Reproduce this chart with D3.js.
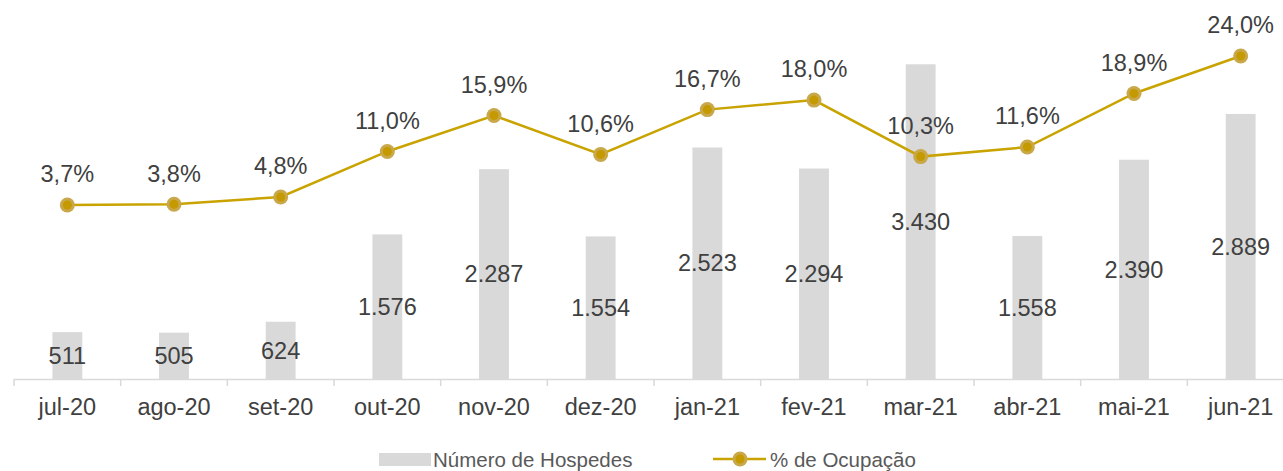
<!DOCTYPE html>
<html>
<head>
<meta charset="utf-8">
<script src="https://cdn.jsdelivr.net/npm/d3@7"></script>
<style>
  body { margin: 0; background: #fff; }
  svg { display: block; font-family: "Liberation Sans", Arial, sans-serif; }
</style>
</head>
<body>
<div id="chart"></div>
<script>
// data
const months = ["jul-20", "ago-20", "set-20", "out-20", "nov-20", "dez-20",
                "jan-21", "fev-21", "mar-21", "abr-21", "mai-21", "jun-21"];
const hospedes = [511, 505, 624, 1576, 2287, 1554, 2523, 2294, 3430, 1558, 2390, 2889];
const ocupacao = [3.7, 3.8, 4.8, 11.0, 15.9, 10.6, 16.7, 18.0, 10.3, 11.6, 18.9, 24.0];
const seriesNames = ["Número de Hospedes", "% de Ocupação"];

const W = 1283, H = 471;
const axisY = 379, topY = 12;

const svg = d3.select("#chart").append("svg")
  .attr("width", W).attr("height", H);

// scales
const x = d3.scaleBand().domain(months).range([14, 1294]);
const yBar = d3.scaleLinear().domain([0, 4000]).range([axisY, topY]);
const yPct = d3.scaleLinear().domain([-20, 30]).range([axisY, topY]);

const fmtInt = v => d3.format(",")(v).replace(/,/g, ".");
const fmtPct = v => v.toFixed(1).replace(".", ",") + "%";

const barW = x.bandwidth() * 0.28;
const lineColor = "#c9a300";
const textColor = "#404040";

// bars
svg.append("g").selectAll("rect")
  .data(months)
  .join("rect")
  .attr("x", (d) => x(d) + x.bandwidth() / 2 - barW / 2)
  .attr("y", (d, i) => yBar(hospedes[i]))
  .attr("width", barW)
  .attr("height", (d, i) => axisY - yBar(hospedes[i]))
  .attr("fill", "#d9d9d9");

// bar labels (centre of bar)
svg.append("g").selectAll("text")
  .data(months)
  .join("text")
  .attr("x", d => x(d) + x.bandwidth() / 2)
  .attr("y", (d, i) => (yBar(hospedes[i]) + axisY) / 2)
  .attr("dy", "0.35em")
  .attr("text-anchor", "middle")
  .attr("fill", textColor)
  .style("font-size", "23.5px")
  .text((d, i) => fmtInt(hospedes[i]));

// x axis
const axis = svg.append("g");
axis.append("line")
  .attr("x1", x.range()[0]).attr("x2", x.range()[1])
  .attr("y1", axisY + 0.5).attr("y2", axisY + 0.5)
  .attr("stroke", "#d9d9d9").attr("stroke-width", 1.5);
axis.selectAll("line.tick")
  .data(months.map(d => x(d)).concat([x.range()[1]]))
  .join("line")
  .attr("class", "tick")
  .attr("x1", d => d).attr("x2", d => d)
  .attr("y1", axisY).attr("y2", axisY + 7)
  .attr("stroke", "#d9d9d9").attr("stroke-width", 1.5);
axis.selectAll("text")
  .data(months)
  .join("text")
  .attr("x", d => x(d) + x.bandwidth() / 2)
  .attr("y", 407)
  .attr("dy", "0.35em")
  .attr("text-anchor", "middle")
  .attr("fill", textColor)
  .style("font-size", "23.5px")
  .text(d => d);

// line
const line = d3.line()
  .x((d, i) => x(months[i]) + x.bandwidth() / 2)
  .y(d => yPct(d));

svg.append("path")
  .datum(ocupacao)
  .attr("d", line)
  .attr("fill", "none")
  .attr("stroke", lineColor)
  .attr("stroke-width", 2.5);

const pts = svg.append("g").selectAll("g")
  .data(ocupacao)
  .join("g")
  .attr("transform", (d, i) => `translate(${x(months[i]) + x.bandwidth() / 2},${yPct(d)})`);
pts.append("circle").attr("r", 7.5).attr("fill", "#c9a84c");
pts.append("circle").attr("r", 4.5).attr("fill", "#c49a00");

pts.append("text")
  .attr("y", -31)
  .attr("dy", "0.35em")
  .attr("text-anchor", "middle")
  .attr("fill", textColor)
  .style("font-size", "23.5px")
  .text(d => fmtPct(d));

// legend
const leg = svg.append("g");
leg.append("rect")
  .attr("x", 379).attr("y", 453)
  .attr("width", 52).attr("height", 13)
  .attr("fill", "#d9d9d9");
leg.append("text")
  .attr("x", 433).attr("y", 460)
  .attr("dy", "0.35em")
  .attr("fill", "#595959")
  .style("font-size", "20.5px")
  .text(seriesNames[0]);
leg.append("line")
  .attr("x1", 713).attr("x2", 766)
  .attr("y1", 459).attr("y2", 459)
  .attr("stroke", lineColor).attr("stroke-width", 2.5);
leg.append("circle").attr("cx", 740).attr("cy", 459).attr("r", 7.5).attr("fill", "#c9a84c");
leg.append("circle").attr("cx", 740).attr("cy", 459).attr("r", 4.5).attr("fill", "#c49a00");
leg.append("text")
  .attr("x", 770).attr("y", 460)
  .attr("dy", "0.35em")
  .attr("fill", "#595959")
  .style("font-size", "20.5px")
  .text(seriesNames[1]);
</script>
</body>
</html>
